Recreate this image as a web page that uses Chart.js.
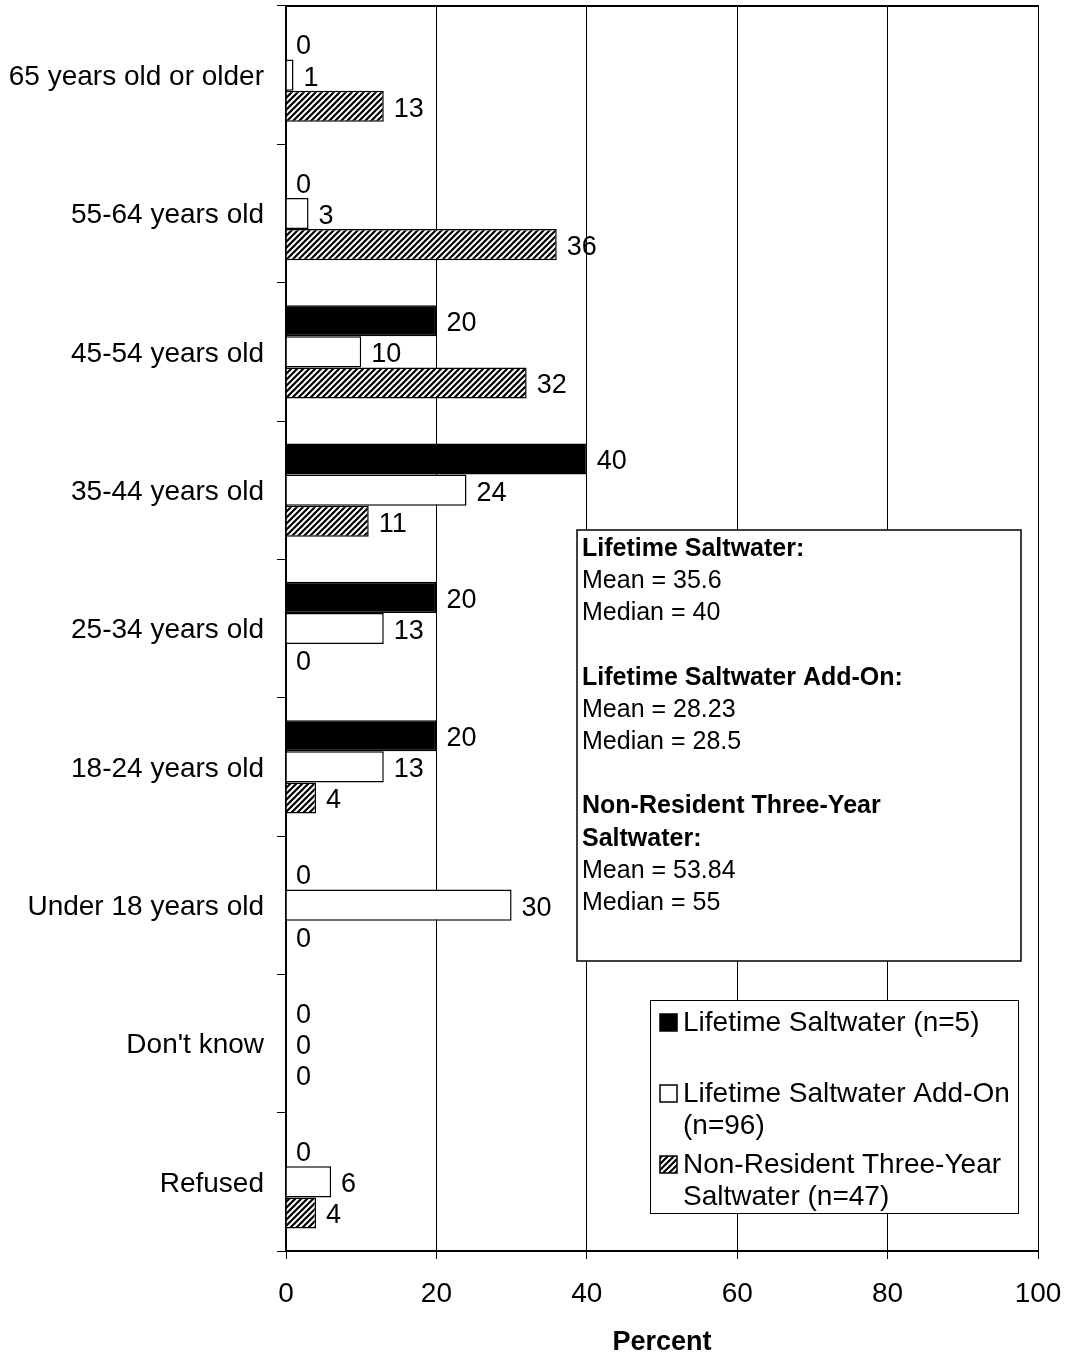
<!DOCTYPE html>
<html>
<head>
<meta charset="utf-8">
<script src="https://cdn.jsdelivr.net/npm/chart.js@4"></script>
<style>
  html, body { margin: 0; padding: 0; background: #fff; }
  #wrap { width: 1065px; height: 1354px; }
</style>
</head>
<body>
<div id="wrap"><canvas id="c" width="1065" height="1354"></canvas></div>
<script>
const categories = ["65 years old or older", "55-64 years old", "45-54 years old", "35-44 years old",
  "25-34 years old", "18-24 years old", "Under 18 years old", "Don't know", "Refused"];
const lifetimeSaltwater = [0, 0, 20, 40, 20, 20, 0, 0, 0];
const lifetimeAddOn = [1, 3, 10, 24, 13, 13, 30, 0, 6];
const nonResident3yr = [13, 36, 32, 11, 0, 4, 0, 0, 4];
const seriesNames = ["Lifetime Saltwater (n=5)", "Lifetime Saltwater Add-On (n=96)", "Non-Resident Three-Year Saltwater (n=47)"];
const xTicks = [0, 20, 40, 60, 80, 100];
const statsLines = [
  ["Lifetime Saltwater:", true], ["Mean = 35.6", false], ["Median = 40", false], ["", false],
  ["Lifetime Saltwater Add-On:", true], ["Mean = 28.23", false], ["Median = 28.5", false], ["", false],
  ["Non-Resident Three-Year", true], ["Saltwater:", true], ["Mean = 53.84", false], ["Median = 55", false]
];
const legendLines = [["Lifetime Saltwater (n=5)"], ["Lifetime Saltwater Add-On", "(n=96)"], ["Non-Resident Three-Year", "Saltwater (n=47)"]];

const FONT = "'Liberation Sans', Arial, sans-serif";

function makeHatch() {
  const s = 6;
  const p = document.createElement('canvas');
  p.width = s; p.height = s;
  const g = p.getContext('2d');
  g.fillStyle = '#fff';
  g.fillRect(0, 0, s, s);
  g.strokeStyle = '#000';
  g.lineWidth = 2.2;
  g.beginPath();
  g.moveTo(-1, s + 1); g.lineTo(s + 1, -1);
  g.moveTo(-1, 1); g.lineTo(1, -1);
  g.moveTo(s - 1, s + 1); g.lineTo(s + 1, s - 1);
  g.stroke();
  return document.getElementById('c').getContext('2d').createPattern(p, 'repeat');
}
const hatch = makeHatch();

const valueLabels = {
  id: 'valueLabels',
  afterDatasetsDraw(chart) {
    const ctx = chart.ctx;
    ctx.save();
    ctx.font = "27px " + FONT;
    ctx.fillStyle = '#000';
    ctx.textAlign = 'left';
    ctx.textBaseline = 'middle';
    chart.data.datasets.forEach((ds, di) => {
      const meta = chart.getDatasetMeta(di);
      meta.data.forEach((el, i) => {
        ctx.fillText(String(ds.data[i]), el.x + 10, el.y + 3);
      });
    });
    ctx.restore();
  }
};

const boxes = {
  id: 'boxes',
  afterDraw(chart) {
    const ctx = chart.ctx;
    const a = chart.chartArea;
    ctx.save();
    ctx.strokeStyle = '#000';
    ctx.lineWidth = 2;
    ctx.beginPath();
    ctx.moveTo(a.left, a.top);
    ctx.lineTo(a.right + 1, a.top);
    ctx.stroke();

    // stats box
    ctx.fillStyle = '#fff';
    ctx.fillRect(577, 530, 444, 431);
    ctx.lineWidth = 1.5;
    ctx.strokeRect(577, 530, 444, 431);
    ctx.fillStyle = '#000';
    ctx.textAlign = 'left';
    ctx.textBaseline = 'middle';
    statsLines.forEach((ln, i) => {
      ctx.font = (ln[1] ? "bold " : "") + "25px " + FONT;
      ctx.fillText(ln[0], 582, 549 + i * 32.2);
    });

    // legend box
    ctx.fillStyle = '#fff';
    ctx.fillRect(650, 1000, 368, 213);
    ctx.lineWidth = 1;
    ctx.strokeStyle = '#000';
    ctx.strokeRect(650.5, 1000.5, 368, 213);
    const fills = chart.data.datasets.map(d => d.backgroundColor);
    const starts = [1023, 1094, 1165];
    ctx.font = "28px " + FONT;
    legendLines.forEach((lines, i) => {
      const y = starts[i];
      ctx.fillStyle = fills[i];
      ctx.fillRect(660, y - 9, 17, 17);
      ctx.strokeStyle = '#000';
      ctx.lineWidth = 1.5;
      ctx.strokeRect(660, y - 9, 17, 17);
      ctx.fillStyle = '#000';
      lines.forEach((t, j) => ctx.fillText(t, 683, y + j * 32));
    });
    ctx.restore();
  }
};

new Chart(document.getElementById('c'), {
  type: 'bar',
  data: {
    labels: categories,
    datasets: [
      { label: seriesNames[0], data: lifetimeSaltwater, backgroundColor: '#000', borderColor: '#000', borderWidth: 1.5 },
      { label: seriesNames[1], data: lifetimeAddOn, backgroundColor: '#fff', borderColor: '#000', borderWidth: 1.5 },
      { label: seriesNames[2], data: nonResident3yr, backgroundColor: hatch, borderColor: '#000', borderWidth: 1.5 }
    ]
  },
  options: {
    indexAxis: 'y',
    responsive: false,
    animation: false,
    devicePixelRatio: 1,
    categoryPercentage: 0.675,
    barPercentage: 1,
    layout: { padding: { top: 6, right: 27, left: 0, bottom: 0 } },
    plugins: { legend: { display: false }, tooltip: { enabled: false } },
    scales: {
      x: {
        min: 0, max: 100,
        afterBuildTicks: (s) => { s.ticks = xTicks.map(v => ({ value: v })); },
        afterFit: (s) => { s.height = 103; s.paddingLeft = 0; s.paddingRight = 0; s.paddingTop = 0; s.paddingBottom = 0; },
        ticks: { color: '#000', font: { family: FONT, size: 28 }, padding: 18, maxRotation: 0 },
        grid: { color: '#000', lineWidth: 1, tickLength: 8, tickColor: '#000' },
        border: { display: true, color: '#000', width: 2 },
        title: { display: true, text: 'Percent', color: '#000', font: { family: FONT, size: 27, weight: 'bold', lineHeight: 1 }, padding: { top: 0, bottom: -2 } }
      },
      y: {
        afterFit: (s) => { s.width = 286; s.paddingTop = 0; s.paddingBottom = 0; s.paddingLeft = 0; s.paddingRight = 0; },
        ticks: { color: '#000', font: { family: FONT, size: 28 }, padding: 13, autoSkip: false, labelOffset: 2 },
        grid: { drawOnChartArea: false, drawTicks: true, tickLength: 9, color: '#000', lineWidth: 1, offset: true },
        border: { display: true, color: '#000', width: 2 }
      }
    }
  },
  plugins: [valueLabels, boxes]
});
</script>
</body>
</html>
